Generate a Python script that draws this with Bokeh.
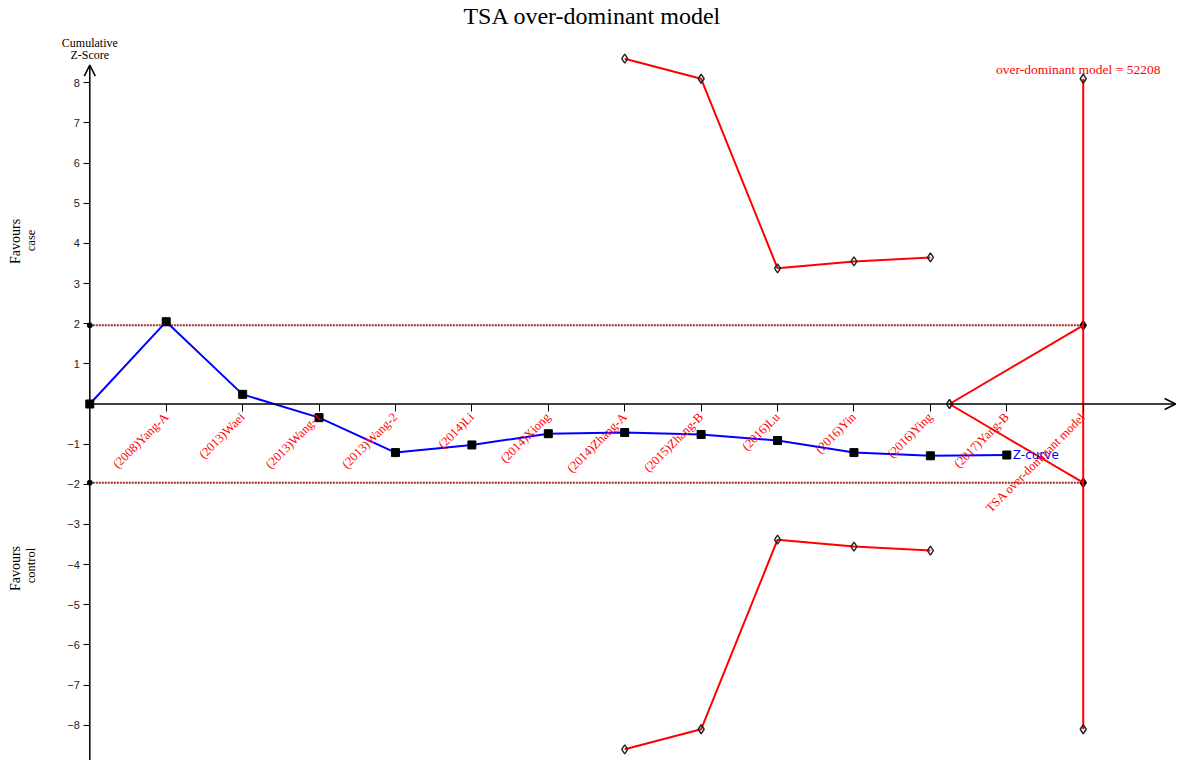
import math
from bokeh.plotting import figure
from bokeh.models import Range1d, FixedTicker, Arrow, OpenHead
from bokeh.core.properties import value
from bokeh.embed import file_html
from bokeh.resources import INLINE

# ---------------- data ----------------
studies = ["(2008)Yang-A", "(2013)Waei", "(2013)Wang-1", "(2013)Wang-2", "(2014)Li",
           "(2014)Xiong", "(2014)Zhang-A", "(2015)Zhang-B", "(2016)Lu", "(2016)Yin",
           "(2016)Ying", "(2017)Yang-B"]
z_curve = [0.0, 2.05, 0.24, -0.34, -1.21, -1.02, -0.74, -0.71, -0.76, -0.91, -1.21, -1.29, -1.27]

bound_index = [7, 8, 9, 10, 11]
upper_bound = [8.6, 8.1, 3.38, 3.55, 3.65]
lower_bound = [-8.6, -8.1, -3.38, -3.55, -3.65]

ris_label = "TSA over-dominant model"
ris_position = 13
ris_value = 52208
ris_top = 8.1
ris_bottom = -8.1
futility_start = 11.25
z_alpha = 1.96

y_ticks = [-8, -7, -6, -5, -4, -3, -2, -1, 1, 2, 3, 4, 5, 6, 7, 8]

# ---------------- layout ----------------
W, H = 1184, 760
SX, SY = W / 1200.0, H / 776.0          # reference image -> canvas scale
X0_PX, X_SCALE = 90.5 * SX, 77.45 * SX  # canvas pixel of x=0, px per unit
Y0_PX, Y_SCALE = 412.0 * SY, 41.0 * SY  # canvas pixel of y=0, px per unit

x_start = -X0_PX / X_SCALE
x_end = x_start + W / X_SCALE
y_end = Y0_PX / Y_SCALE
y_start = y_end - H / Y_SCALE

def px_x(px):   # reference-image pixel -> data x
    return (px * SX - X0_PX) / X_SCALE

def px_y(py):   # reference-image pixel -> data y
    return (Y0_PX - py * SY) / Y_SCALE

serif = value("Liberation Serif")

p = figure(width=W, height=H, x_range=Range1d(x_start, x_end), y_range=Range1d(y_start, y_end),
           output_backend="svg", toolbar_location=None, min_border=0,
           outline_line_color=None, background_fill_color="white")
p.grid.visible = False

# x axis
xa = p.xaxis[0]
xa.fixed_location = 0
xa.ticker = FixedTicker(ticks=list(range(1, ris_position + 1)))
overrides = {i + 1: s for i, s in enumerate(studies)}
overrides[ris_position] = ris_label
xa.major_label_overrides = overrides
xa.major_label_orientation = math.pi / 4
xa.major_label_text_color = "red"
xa.major_label_text_font = "Liberation Serif"
xa.major_label_text_font_size = "12.5px"
xa.major_label_standoff = 4
xa.axis_line_alpha = 0
xa.major_tick_out = 7
xa.major_tick_in = 0
xa.major_tick_line_color = "black"
xa.minor_tick_line_color = None

# y axis
ya = p.yaxis[0]
ya.fixed_location = 0
ya.ticker = FixedTicker(ticks=y_ticks)
ya.major_label_text_font = "Liberation Sans"
ya.major_label_text_font_size = "11px"
ya.major_label_text_color = "#222222"
ya.major_label_standoff = 4
ya.axis_line_alpha = 0
ya.major_tick_out = 6
ya.major_tick_in = 0
ya.major_tick_line_color = "black"
ya.minor_tick_line_color = None

# axis lines with arrow heads
p.add_layout(Arrow(end=OpenHead(size=11, line_width=1.5, line_color="black"),
                   x_start=0, y_start=y_start, x_end=0, y_end=px_y(66),
                   line_width=1.5, line_color="black"))
p.add_layout(Arrow(end=OpenHead(size=11, line_width=1.5, line_color="black"),
                   x_start=0, y_start=0, x_end=px_x(1191), y_end=0,
                   line_width=1.5, line_color="black"))

# conventional significance lines
for zv in (z_alpha, -z_alpha):
    p.line([0, ris_position], [zv, zv], line_color="#a52a2a", line_width=2, line_dash="2 1")
p.scatter([0, 0], [z_alpha, -z_alpha], marker="circle", size=5, color="black")
p.scatter([ris_position, ris_position], [z_alpha, -z_alpha], marker="diamond", size=10, color="black")

# monitoring boundaries
p.line(bound_index, upper_bound, line_color="red", line_width=2)
p.line(bound_index, lower_bound, line_color="red", line_width=2)
p.scatter(bound_index + bound_index, upper_bound + lower_bound, marker="diamond", size=9,
          fill_alpha=0, line_color="#222222", line_width=1.4)

# futility wedge
p.line([futility_start, ris_position], [0, z_alpha], line_color="red", line_width=2)
p.line([futility_start, ris_position], [0, -z_alpha], line_color="red", line_width=2)
p.scatter([futility_start], [0], marker="diamond", size=9, fill_alpha=0,
          line_color="#222222", line_width=1.4)

# required information size line
p.line([ris_position, ris_position], [ris_top, ris_bottom], line_color="red", line_width=2)
p.scatter([ris_position, ris_position], [ris_top, ris_bottom], marker="diamond", size=9,
          fill_alpha=0, line_color="#222222", line_width=1.4)
p.text([ris_position], [px_y(70)], text=[f"over-dominant model = {ris_value}"],
       text_align="center", text_baseline="middle", x_offset=-5,
       text_font=serif, text_font_size="13.5px", text_color="red")

# Z-curve
xs = list(range(len(z_curve)))
p.line(xs, z_curve, line_color="blue", line_width=2)
p.scatter(xs, z_curve, marker="square", size=8, color="black")
p.text([xs[-1]], [z_curve[-1]], text=["Z-curve"], x_offset=6, text_align="left",
       text_baseline="middle", text_font=value("DejaVu Sans"), text_font_size="12px",
       text_color="blue")

# titles and side texts
p.text([(x_start + x_end) / 2], [px_y(16)], text=["TSA over-dominant model"],
       text_align="center", text_baseline="middle", text_font=serif,
       text_font_size="24px", text_color="black")
p.text([0, 0], [px_y(43), px_y(56)], text=["Cumulative", "Z-Score"],
       text_align="center", text_baseline="middle", text_font=serif,
       text_font_size="12px", text_color="black")
p.text([px_x(15), px_x(15)], [px_y(246), px_y(580)], text=["Favours", "Favours"],
       angle=math.pi / 2, text_align="center", text_baseline="middle", text_font=serif,
       text_font_size="14px", text_color="black")
p.text([px_x(31), px_x(31)], [px_y(245), px_y(577)], text=["case", "control"],
       angle=math.pi / 2, text_align="center", text_baseline="middle", text_font=serif,
       text_font_size="12.5px", text_color="black")

open("out.html", "w").write(file_html(p, INLINE))
